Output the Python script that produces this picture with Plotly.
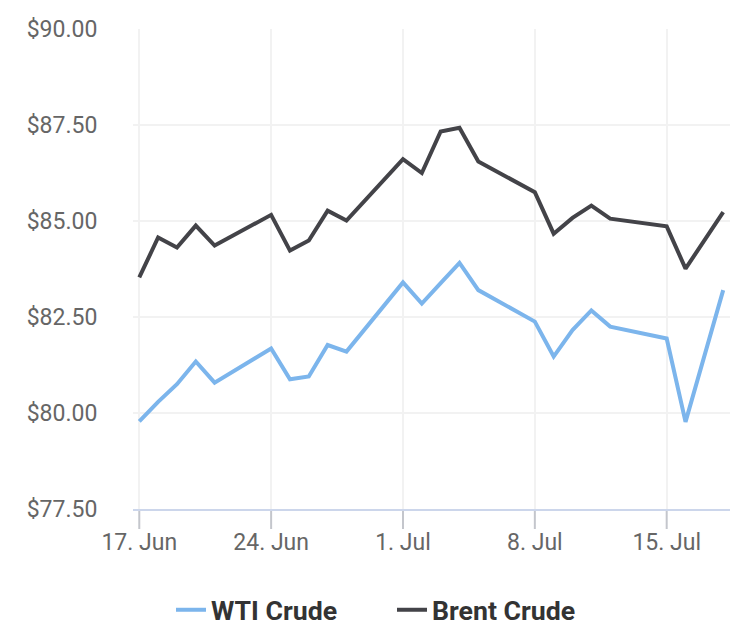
import plotly.graph_objects as go

dates = ["2024-06-17", "2024-06-18", "2024-06-19", "2024-06-20", "2024-06-21",
         "2024-06-24", "2024-06-25", "2024-06-26", "2024-06-27", "2024-06-28",
         "2024-07-01", "2024-07-02", "2024-07-03", "2024-07-04", "2024-07-05",
         "2024-07-08", "2024-07-09", "2024-07-10", "2024-07-11", "2024-07-12",
         "2024-07-15", "2024-07-16", "2024-07-18"]

wti = [79.78, 80.29, 80.75, 81.34, 80.79,
       81.68, 80.88, 80.95, 81.77, 81.60,
       83.40, 82.85, 83.38, 83.91, 83.20,
       82.38, 81.47, 82.16, 82.67, 82.25,
       81.94, 79.77, 83.20]

brent = [83.53, 84.57, 84.31, 84.88, 84.36,
         85.16, 84.23, 84.49, 85.27, 85.01,
         86.61, 86.25, 87.33, 87.43, 86.55,
         85.75, 84.67, 85.08, 85.40, 85.06,
         84.86, 83.76, 85.23]

x_ticks = ["2024-06-17", "2024-06-24", "2024-07-01", "2024-07-08", "2024-07-15"]
y_ticks = [77.5, 80.0, 82.5, 85.0, 87.5, 90.0]
y_tick_labels = ["$77.50", "$80.00", "$82.50", "$85.00", "$87.50", "$90.00"]

fig = go.Figure()
fig.add_trace(go.Scatter(x=dates, y=wti, name="WTI Crude", mode="lines",
                         line=dict(color="#7cb5ec", width=4)))
fig.add_trace(go.Scatter(x=dates, y=brent, name="Brent Crude", mode="lines",
                         line=dict(color="#434348", width=4)))

# x-axis tick marks (drawn at the tick dates, reaching below the axis line)
for t in x_ticks:
    fig.add_shape(type="line", xref="x", yref="y domain", x0=t, x1=t,
                  y0=0, y1=-20 / 480, line=dict(color="#c4c6cc", width=2),
                  layer="below")

fig.update_layout(
    width=756, height=634,
    margin=dict(l=133, r=26, t=29, b=125),
    paper_bgcolor="white", plot_bgcolor="white",
    font=dict(family="Roboto", size=23, color="#666666"),
    showlegend=True,
    legend=dict(orientation="h", xref="container", yref="container",
                x=0.5185, xanchor="center", y=0.038, yanchor="middle",
                font=dict(family="Roboto", size=26.7, color="#333333", weight=700),
                itemwidth=30, entrywidth=176, tracegroupgap=0),
    xaxis=dict(type="date", range=["2024-06-16 16:00", "2024-07-18 08:40"],
               tickvals=x_ticks, tickformat="%-d. %b",
               showgrid=True, gridcolor="#f2f2f2", gridwidth=2,
               showline=True, linecolor="#ccd6eb", linewidth=2,
               ticks="outside", ticklen=11, tickwidth=2, tickcolor="rgba(0,0,0,0)",
               zeroline=False),
    yaxis=dict(range=[77.5, 90], tickvals=y_ticks, ticktext=y_tick_labels,
               showgrid=True, gridcolor="#f2f2f2", gridwidth=2,
               ticks="outside", ticklen=30, tickcolor="rgba(0,0,0,0)",
               showline=False, zeroline=False),
)

fig.write_html("out.html")
